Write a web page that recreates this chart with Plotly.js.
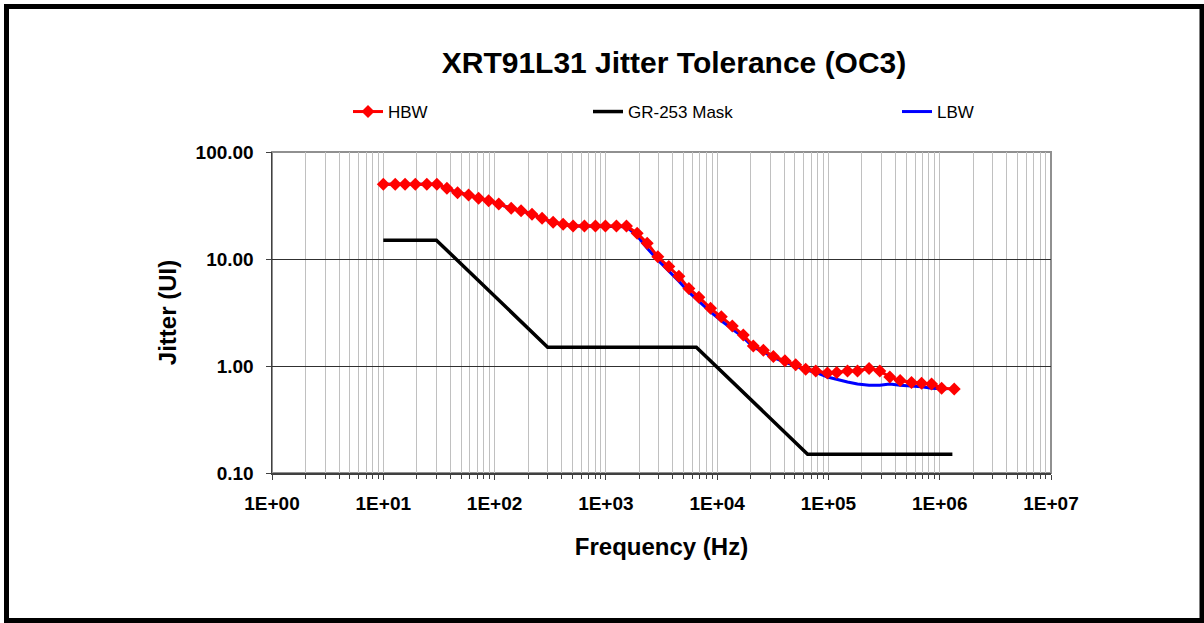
<!DOCTYPE html>
<html>
<head>
<meta charset="utf-8">
<script src="https://cdn.plot.ly/plotly-3.0.1.min.js"></script>
<style>
html,body{margin:0;padding:0;background:#fff;}
#chart{width:1204px;height:623px;}
</style>
</head>
<body>
<div id="chart"></div>
<script>
// ---- data ----
const chartTitle = "XRT91L31 Jitter Tolerance (OC3)";
const xTitle = "Frequency (Hz)";
const yTitle = "Jitter (UI)";
const seriesNames = ["HBW", "GR-253 Mask", "LBW"];

const xTickVals = [1, 10, 100, 1000, 10000, 100000, 1000000, 10000000];
const xTickText = ["1E+00", "1E+01", "1E+02", "1E+03", "1E+04", "1E+05", "1E+06", "1E+07"];
const yTickVals = [0.1, 1, 10, 100];
const yTickText = ["0.10", "1.00", "10.00", "100.00"];

const hbwFreq = [10, 12.8, 15.7, 19.4, 24.6, 30.3, 37.3, 46.5, 58.4, 71.8, 88.4, 109, 141, 173, 217, 267, 336, 413, 508, 642, 806, 991, 1245, 1532,
  1911, 2352, 2929, 3680, 4530, 5570, 6855, 8730, 10900, 13680, 17180, 21140, 26020, 32000, 40660, 50800,
  62500, 76900, 98000, 118800, 148400, 182500, 231900, 289400, 356100, 440900, 558000, 686900, 844900, 1040000, 1350000];
const hbwJitter = [50, 50, 50, 50, 50, 50, 45.8, 41.7, 39.6, 36.9, 35.1, 32.7, 29.8, 28.3, 26.2, 24.0, 22.0, 21.1, 20.3, 20.3, 20.3, 20.3, 20.3, 20.3,
  17.4, 14.0, 10.5, 8.5, 6.9, 5.3, 4.4, 3.46, 2.89, 2.37, 1.95, 1.54, 1.40, 1.23, 1.12, 1.03,
  0.93, 0.90, 0.86, 0.87, 0.90, 0.90, 0.95, 0.90, 0.79, 0.73, 0.70, 0.69, 0.68, 0.62, 0.61];

const maskFreq = [10, 30, 300, 6500, 65000, 1300000];
const maskJitter = [15, 15, 1.5, 1.5, 0.15, 0.15];

const lbwFreq = [10, 12.8, 15.7, 19.4, 24.6, 30.3, 37.3, 46.5, 58.4, 71.8, 88.4, 109, 141, 173, 217, 267, 336, 413, 508, 642, 806, 991, 1245, 1532,
  1911, 2352, 2929, 3680, 4530, 5570, 6855, 8730, 10900, 13680, 17180, 21140, 26020, 32000, 40660, 50800,
  62500, 76900, 98000, 118800, 148400, 182500, 231900, 289400, 356100, 440900, 558000, 686900, 844900, 1040000, 1150000];
const lbwJitter = [50, 50, 50, 50, 50, 50, 45.8, 41.7, 39.6, 36.9, 35.1, 32.7, 29.8, 28.3, 26.2, 24.0, 22.0, 21.1, 20.3, 20.3, 20.3, 20.3, 20.3, 20.0,
  16.5, 12.6, 9.8, 7.8, 6.2, 4.9, 4.0, 3.2, 2.65, 2.2, 1.85, 1.5, 1.36, 1.2, 1.1, 1.0,
  0.92, 0.87, 0.79, 0.75, 0.71, 0.68, 0.66, 0.66, 0.68, 0.66, 0.65, 0.64, 0.62, 0.61, 0.61];

// ---- styles ----
const FONT = "Liberation Sans, Arial, sans-serif";
const minorX = [];
for (let e = 0; e < 7; e++) for (let d = 2; d <= 9; d++) minorX.push(d * Math.pow(10, e));

const traces = [
  {x: lbwFreq, y: lbwJitter, name: seriesNames[2], mode: "lines", type: "scatter",
   line: {color: "#0000ff", width: 3}, legend: "legend3"},
  {x: maskFreq, y: maskJitter, name: seriesNames[1], mode: "lines", type: "scatter",
   line: {color: "#000000", width: 3.5}, legend: "legend2"},
  {x: hbwFreq, y: hbwJitter, name: seriesNames[0], mode: "lines+markers", type: "scatter",
   line: {color: "#ff0000", width: 3}, marker: {symbol: "diamond", size: 10, color: "#ff0000"}, legend: "legend"}
];

const L = 272, R = 1051, T = 152, B = 473, W = 1204, H = 623;
const pw = R - L, ph = B - T;
const px = v => (v - L) / pw;
const py = v => (B - v) / ph;

const legBase = {orientation: "h", xanchor: "left", yanchor: "middle", y: py(112),
  bgcolor: "rgba(0,0,0,0)", borderwidth: 0, font: {family: FONT, size: 17, color: "#000"}};

const layout = {
  width: W, height: H,
  margin: {l: L, r: W - R, t: T, b: H - B, pad: 0},
  paper_bgcolor: "#ffffff", plot_bgcolor: "#ffffff",
  title: {text: chartTitle, x: px(674), xanchor: "center", xref: "paper", y: 1 - 62 / H, yanchor: "middle",
    font: {family: FONT, size: 30, weight: "bold", color: "#000"}},
  showlegend: true,
  legend: Object.assign({}, legBase, {x: px(348)}),
  legend2: Object.assign({}, legBase, {x: px(588)}),
  legend3: Object.assign({}, legBase, {x: px(897)}),
  xaxis: {
    type: "log", range: [0, 7], tickmode: "array", tickvals: xTickVals, ticktext: xTickText,
    ticks: "outside", ticklen: 5, tickcolor: "#404040", tickwidth: 1,
    showline: true, linecolor: "#404040", linewidth: 1.5,
    showgrid: true, gridcolor: "#c0c0c0", gridwidth: 1, zeroline: false,
    tickfont: {family: FONT, size: 19, weight: "bold", color: "#000"}, ticklabelstandoff: 8,
    minor: {tickvals: minorX, ticks: "outside", ticklen: 4, tickcolor: "#404040", showgrid: true, gridcolor: "#c0c0c0", gridwidth: 1},
    title: {text: xTitle, font: {family: FONT, size: 24, weight: "bold", color: "#000"}, standoff: 25}
  },
  yaxis: {
    type: "log", range: [-1, 2], tickmode: "array", tickvals: yTickVals, ticktext: yTickText,
    ticks: "outside", ticklen: 5, tickcolor: "#404040", tickwidth: 1,
    showline: true, linecolor: "#404040", linewidth: 1.5,
    showgrid: true, gridcolor: "#303030", gridwidth: 1, zeroline: false,
    tickfont: {family: FONT, size: 19, weight: "bold", color: "#000"}, ticklabelstandoff: 8,
    title: {text: yTitle, font: {family: FONT, size: 24, weight: "bold", color: "#000"}, standoff: 12}
  },
  shapes: [
    {type: "rect", xref: "paper", yref: "paper", x0: 0, x1: 1, y0: 0, y1: 1,
     line: {color: "#909090", width: 2}, layer: "below"},
    {type: "rect", xref: "paper", yref: "paper", x0: px(6.5), x1: px(1202), y0: py(620.5), y1: py(6.5),
     line: {color: "#000000", width: 5}, layer: "above"}
  ]
};

Plotly.newPlot("chart", traces, layout, {displayModeBar: false, staticPlot: true});
</script>
</body>
</html>
